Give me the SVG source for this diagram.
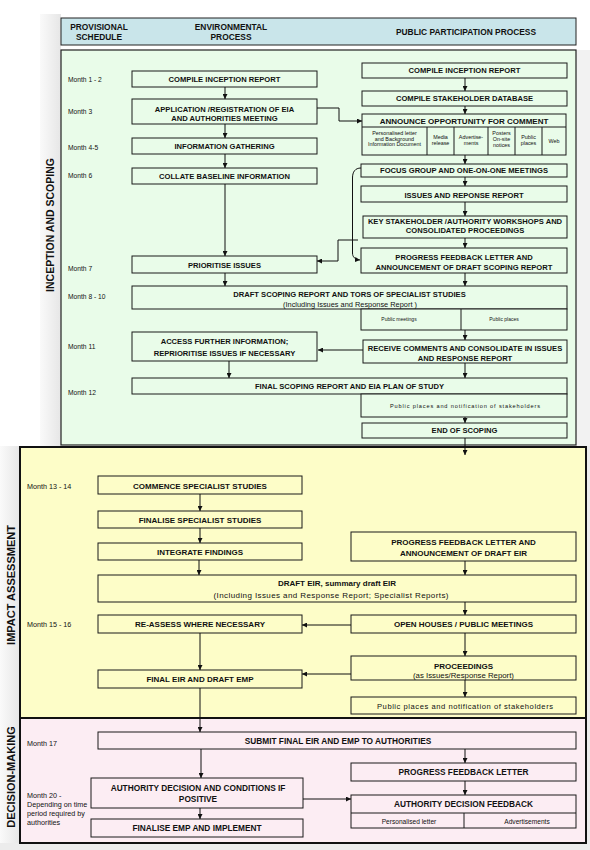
<svg xmlns="http://www.w3.org/2000/svg" width="590" height="850" viewBox="0 0 590 850">
<defs>
<marker id="ah" markerWidth="5" markerHeight="5" refX="5" refY="2.5" orient="auto" markerUnits="userSpaceOnUse"><path d="M0,0 L5,2.5 L0,5 z" fill="#111"/></marker>
<linearGradient id="gl" x1="0" y1="0" x2="1" y2="0"><stop offset="0" stop-color="#fafafa"/><stop offset="1" stop-color="#e6e6e6"/></linearGradient>
<style>
text{font-family:"Liberation Sans",Arial,sans-serif;fill:#111}
.b{stroke:#1a1a1a;stroke-width:1}
.g{fill:#e9fce9}
.y{fill:#fdfdc8}
.p{fill:#fcedf3}
.t{font-weight:bold;text-anchor:middle}
.tg{font-size:7.6px}
.ty{font-size:8px}
.tp{font-size:8.3px}
.h{font-weight:bold;text-anchor:middle;font-size:8.4px}
.m{font-size:6.7px}
.m2{font-size:7.2px}
.s{text-anchor:middle}
.v{font-weight:bold;font-size:10.5px;text-anchor:middle}
.c line,.c polyline,.c path{stroke:#111;stroke-width:1;fill:none;marker-end:url(#ah)}
.d{stroke:#1a1a1a;stroke-width:1}
</style>
</defs>
<rect width="590" height="850" fill="#ffffff"/>
<rect x="40" y="14" width="21" height="433" fill="url(#gl)"/>
<rect x="0" y="446" width="20" height="404" fill="url(#gl)"/>
<rect x="0" y="843" width="590" height="7" fill="#ececec"/>
<rect x="576" y="50" width="14" height="397" fill="#f2f2f2"/>
<rect x="586" y="446" width="4" height="404" fill="#ececec"/>
<!-- sections -->
<g id="header">
<rect x="61" y="18" width="515" height="27" fill="#c9e5ea" stroke="#222" stroke-width="1"/>
<text class="h" x="99" y="30">PROVISIONAL</text>
<text class="h" x="99" y="39.5">SCHEDULE</text>
<text class="h" x="231" y="30">ENVIRONMENTAL</text>
<text class="h" x="231" y="39.5">PROCESS</text>
<text class="h" x="466" y="35">PUBLIC PARTICIPATION PROCESS</text>
</g>
<g id="section-inception">
<rect x="61" y="50" width="515" height="395" class="g" stroke="#222" stroke-width="1.2"/>
<text class="v" transform="translate(53.5,225) rotate(-90)">INCEPTION AND SCOPING</text>
</g>
<g id="section-impact">
<rect x="20" y="447" width="566" height="271" class="y" stroke="#111" stroke-width="2"/>
<text class="v" transform="translate(15,585) rotate(-90)" style="font-size:11px">IMPACT ASSESSMENT</text>
</g>
<g id="section-decision">
<rect x="20" y="718" width="566" height="125" class="p" stroke="#111" stroke-width="2"/>
<text class="v" transform="translate(15,777) rotate(-90)" style="font-size:11px">DECISION-MAKING</text>
</g>
<!-- months -->
<g id="schedule">
<text class="m" x="68" y="81.5">Month 1 - 2</text>
<text class="m" x="68" y="114">Month 3</text>
<text class="m" x="68" y="149.7">Month 4-5</text>
<text class="m" x="68" y="178.4">Month 6</text>
<text class="m" x="68" y="270.7">Month 7</text>
<text class="m" x="68" y="299">Month 8 - 10</text>
<text class="m" x="68" y="349">Month 11</text>
<text class="m" x="68" y="394.7">Month 12</text>
<text class="m2" x="27" y="489">Month 13 - 14</text>
<text class="m2" x="27" y="627">Month 15 - 16</text>
<text class="m2" x="27" y="746">Month 17</text>
<text class="m2" x="27" y="798">Month 20 -</text>
<text class="m2" x="27" y="806.5">Depending on time</text>
<text class="m2" x="27" y="815.5">period required by</text>
<text class="m2" x="27" y="824.5">authorities</text>
</g>
<!-- green left -->
<g id="env-compile">
<rect x="132" y="71" width="185" height="16" class="g b"/>
<text class="t tg" x="224.5" y="81.7">COMPILE INCEPTION REPORT</text>
</g>
<g id="env-application">
<rect x="132" y="99" width="185" height="25" class="g b"/>
<text class="t tg" x="224.5" y="111.7">APPLICATION /REGISTRATION OF EIA</text>
<text class="t tg" x="224.5" y="121">AND AUTHORITIES MEETING</text>
</g>
<g id="env-info">
<rect x="132" y="138" width="185" height="16" class="g b"/>
<text class="t tg" x="224.5" y="148.7">INFORMATION GATHERING</text>
</g>
<g id="env-collate">
<rect x="132" y="168" width="185" height="16" class="g b"/>
<text class="t tg" x="224.5" y="178.7">COLLATE BASELINE INFORMATION</text>
</g>
<g id="env-prioritise">
<rect x="132" y="256" width="185" height="17" class="g b"/>
<text class="t tg" x="224.5" y="267.7">PRIORITISE ISSUES</text>
</g>
<g id="draft-scoping">
<rect x="132" y="286" width="435" height="23" class="g b"/>
<text class="t tg" x="349.5" y="297">DRAFT SCOPING REPORT AND TORS OF SPECIALIST STUDIES</text>
<text class="s" x="350" y="306.8" style="font-size:7.4px">(Including Issues and Response Report )</text>
<rect x="361" y="309" width="206" height="21" class="g b"/>
<line x1="461" y1="309" x2="461" y2="330" class="d"/>
<text class="s" x="399" y="321.2" style="font-size:5px">Public meetings</text>
<text class="s" x="504" y="321.2" style="font-size:5px">Public places</text>
</g>
<g id="env-access">
<rect x="132" y="332" width="185" height="29" class="g b"/>
<text class="t tg" x="224.5" y="344.4">ACCESS FURTHER INFORMATION;</text>
<text class="t tg" x="224.5" y="356">REPRIORITISE ISSUES IF NECESSARY</text>
</g>
<g id="final-scoping">
<rect x="132" y="378" width="435" height="16" class="g b"/>
<text class="t tg" x="349.5" y="388.7">FINAL SCOPING REPORT AND EIA PLAN OF STUDY</text>
<rect x="361" y="394" width="206" height="23" class="g b"/>
<text class="s" x="465" y="408" style="font-size:5.6px" textLength="150" lengthAdjust="spacing">Public places and notification of stakeholders</text>
</g>
<g id="end-scoping">
<rect x="362" y="423" width="205" height="15" class="g b"/>
<text class="t tg" x="464.5" y="433.3">END OF SCOPING</text>
</g>
<!-- green right -->
<g id="pp-compile">
<rect x="362" y="63" width="205" height="15" class="g b"/>
<text class="t tg" x="464.5" y="73.4">COMPILE INCEPTION REPORT</text>
</g>
<g id="pp-database">
<rect x="362" y="91" width="205" height="15" class="g b"/>
<text class="t tg" x="464.5" y="101.2">COMPILE STAKEHOLDER DATABASE</text>
</g>
<g id="pp-announce">
<rect x="362" y="114" width="204" height="41" class="g b"/>
<line x1="362" y1="127" x2="566" y2="127" class="d"/>
<line x1="427" y1="127" x2="427" y2="155" class="d"/>
<line x1="454" y1="127" x2="454" y2="155" class="d"/>
<line x1="488" y1="127" x2="488" y2="155" class="d"/>
<line x1="515" y1="127" x2="515" y2="155" class="d"/>
<line x1="542" y1="127" x2="542" y2="155" class="d"/>
<text class="t" x="464" y="123.6" style="font-size:8px">ANNOUNCE OPPORTUNITY FOR COMMENT</text>
<text class="s" x="394.5" y="135" style="font-size:5.4px">Personalised letter</text>
<text class="s" x="394.5" y="140.5" style="font-size:5.4px">and Background</text>
<text class="s" x="394.5" y="146" style="font-size:5.4px">Information Document</text>
<text class="s" x="440.5" y="139" style="font-size:5.4px">Media</text>
<text class="s" x="440.5" y="145" style="font-size:5.4px">release</text>
<text class="s" x="471" y="139" style="font-size:5.4px">Advertise-</text>
<text class="s" x="471" y="145" style="font-size:5.4px">ments</text>
<text class="s" x="501.5" y="135" style="font-size:5.4px">Posters</text>
<text class="s" x="501.5" y="141" style="font-size:5.4px">On-site</text>
<text class="s" x="501.5" y="147" style="font-size:5.4px">notices</text>
<text class="s" x="528.5" y="139" style="font-size:5.4px">Public</text>
<text class="s" x="528.5" y="145" style="font-size:5.4px">places</text>
<text class="s" x="554" y="142.5" style="font-size:5.4px">Web</text>
</g>
<g id="pp-focus">
<rect x="361" y="164" width="206" height="13" class="g b"/>
<text class="t tg" x="464" y="173">FOCUS GROUP AND ONE-ON-ONE MEETINGS</text>
</g>
<g id="pp-issues">
<rect x="361" y="186" width="206" height="16" class="g b"/>
<text class="t tg" x="464" y="197.7">ISSUES AND REPONSE REPORT</text>
</g>
<g id="pp-key">
<rect x="363" y="216" width="204" height="22" class="g b"/>
<text class="t tg" x="465" y="224.4">KEY STAKEHOLDER /AUTHORITY WORKSHOPS AND</text>
<text class="t tg" x="465" y="233.4">CONSOLIDATED PROCEEDINGS</text>
</g>
<g id="pp-progress">
<rect x="361" y="248" width="206" height="25" class="g b"/>
<text class="t tg" x="464" y="260">PROGRESS FEEDBACK LETTER AND</text>
<text class="t tg" x="464" y="270">ANNOUNCEMENT OF DRAFT SCOPING REPORT</text>
</g>
<g id="pp-receive">
<rect x="363" y="340" width="204" height="23" class="g b"/>
<text class="t tg" x="465" y="351">RECEIVE COMMENTS  AND CONSOLIDATE IN ISSUES</text>
<text class="t tg" x="465" y="361">AND RESPONSE REPORT</text>
</g>
<!-- yellow -->
<g id="ia-commence">
<rect x="98" y="476" width="204" height="18" class="y b"/>
<text class="t ty" x="200" y="488.6">COMMENCE SPECIALIST STUDIES</text>
</g>
<g id="ia-finalise">
<rect x="98" y="511" width="204" height="17" class="y b"/>
<text class="t ty" x="200" y="522.8">FINALISE SPECIALIST STUDIES</text>
</g>
<g id="ia-integrate">
<rect x="98" y="543" width="204" height="17" class="y b"/>
<text class="t ty" x="200" y="554.8">INTEGRATE FINDINGS</text>
</g>
<g id="ia-progress">
<rect x="351" y="532" width="225" height="29" class="y b"/>
<text class="t ty" x="463.5" y="544.5">PROGRESS FEEDBACK LETTER AND</text>
<text class="t ty" x="463.5" y="556">ANNOUNCEMENT OF DRAFT EIR</text>
</g>
<g id="ia-draft">
<rect x="98" y="575" width="478" height="27" class="y b"/>
<text class="t ty" x="337" y="586.3">DRAFT EIR, summary draft EIR</text>
<text class="s" x="331" y="597.6" style="font-size:8px" textLength="235" lengthAdjust="spacing">(Including Issues and Response Report; Specialist Reports)</text>
</g>
<g id="ia-reassess">
<rect x="98" y="615" width="204" height="18" class="y b"/>
<text class="t ty" x="200" y="627">RE-ASSESS WHERE NECESSARY</text>
</g>
<g id="ia-open">
<rect x="351" y="615" width="225" height="18" class="y b"/>
<text class="t ty" x="463.5" y="627.3">OPEN HOUSES / PUBLIC MEETINGS</text>
</g>
<g id="ia-proceedings">
<rect x="351" y="656" width="225" height="24" class="y b"/>
<text class="t ty" x="463.5" y="668.5">PROCEEDINGS</text>
<text class="s" x="463.5" y="678.3" style="font-size:7.8px">(as Issues/Response Report)</text>
</g>
<g id="ia-final">
<rect x="98" y="670" width="204" height="18" class="y b"/>
<text class="t ty" x="200" y="682">FINAL EIR AND DRAFT EMP</text>
</g>
<g id="ia-public">
<rect x="351" y="697" width="225" height="17" class="y b"/>
<text class="s" x="465" y="708.6" style="font-size:7.6px" textLength="176" lengthAdjust="spacing">Public places and notification of stakeholders</text>
</g>
<!-- pink -->
<g id="dm-submit">
<rect x="98" y="732" width="478" height="17" class="p b"/>
<text class="t tp" x="338" y="743.8">SUBMIT FINAL EIR AND EMP TO AUTHORITIES</text>
</g>
<g id="dm-progress">
<rect x="351" y="763" width="225" height="18" class="p b"/>
<text class="t tp" x="463.5" y="775">PROGRESS FEEDBACK LETTER</text>
</g>
<g id="dm-decision">
<rect x="91" y="778" width="212" height="30" class="p b"/>
<text class="t tp" x="198" y="790.5">AUTHORITY DECISION AND CONDITIONS IF</text>
<text class="t tp" x="198" y="802">POSITIVE</text>
</g>
<g id="dm-finalise">
<rect x="91" y="819" width="212" height="18" class="p b"/>
<text class="t tp" x="197" y="831">FINALISE EMP AND IMPLEMENT</text>
</g>
<g id="dm-feedback">
<rect x="351" y="795" width="225" height="33" class="p b"/>
<line x1="351" y1="813" x2="576" y2="813" class="d"/>
<line x1="464" y1="813" x2="464" y2="828" class="d"/>
<text class="t tp" x="463.5" y="807">AUTHORITY DECISION FEEDBACK</text>
<text class="s" x="409" y="823.5" style="font-size:6.6px">Personalised letter</text>
<text class="s" x="527" y="823.5" style="font-size:6.6px">Advertisements</text>
</g>
<!-- connectors -->
<g id="connectors" class="c">
<line x1="225" y1="87" x2="225" y2="99"/>
<line x1="225" y1="124" x2="225" y2="138"/>
<line x1="225" y1="154" x2="225" y2="168"/>
<line x1="225" y1="184" x2="225" y2="256"/>
<line x1="225" y1="273" x2="225" y2="286"/>
<line x1="229" y1="361" x2="229" y2="378"/>
<line x1="465" y1="78" x2="465" y2="91"/>
<line x1="465" y1="106" x2="465" y2="114"/>
<polyline points="317,108 339,108 339,121 362,121"/>
<line x1="465" y1="155" x2="465" y2="164"/>
<line x1="465" y1="177" x2="465" y2="186"/>
<line x1="465" y1="202" x2="465" y2="216"/>
<line x1="465" y1="238" x2="465" y2="248"/>
<line x1="465" y1="273" x2="465" y2="286"/>
<path d="M361,168 C355,168 352.5,172 352.5,178 L352.5,253 C352.5,257 355,259.5 360,260"/>
<polyline points="358,240 338,240 338,261 317,261"/>
<line x1="465" y1="330" x2="465" y2="340"/>
<line x1="363" y1="350" x2="318" y2="350"/>
<line x1="465" y1="363" x2="465" y2="378"/>
<line x1="465" y1="417" x2="465" y2="423"/>
<line x1="465" y1="438" x2="465" y2="455"/>
<line x1="200" y1="494" x2="200" y2="511"/>
<line x1="200" y1="528" x2="200" y2="543"/>
<line x1="199" y1="560" x2="199" y2="575"/>
<line x1="465" y1="561" x2="465" y2="575"/>
<line x1="465" y1="602" x2="465" y2="615"/>
<line x1="351" y1="625" x2="302" y2="625"/>
<line x1="200" y1="633" x2="200" y2="670"/>
<line x1="465" y1="633" x2="465" y2="656"/>
<line x1="351" y1="674" x2="302" y2="674"/>
<line x1="465" y1="680" x2="465" y2="697"/>
<line x1="200" y1="688" x2="200" y2="732"/>
<line x1="465" y1="749" x2="465" y2="763"/>
<line x1="465" y1="781" x2="465" y2="795"/>
<line x1="201" y1="749" x2="201" y2="778"/>
<line x1="200" y1="808" x2="200" y2="819"/>
<line x1="303" y1="799" x2="351" y2="799"/>
</g>
</svg>
